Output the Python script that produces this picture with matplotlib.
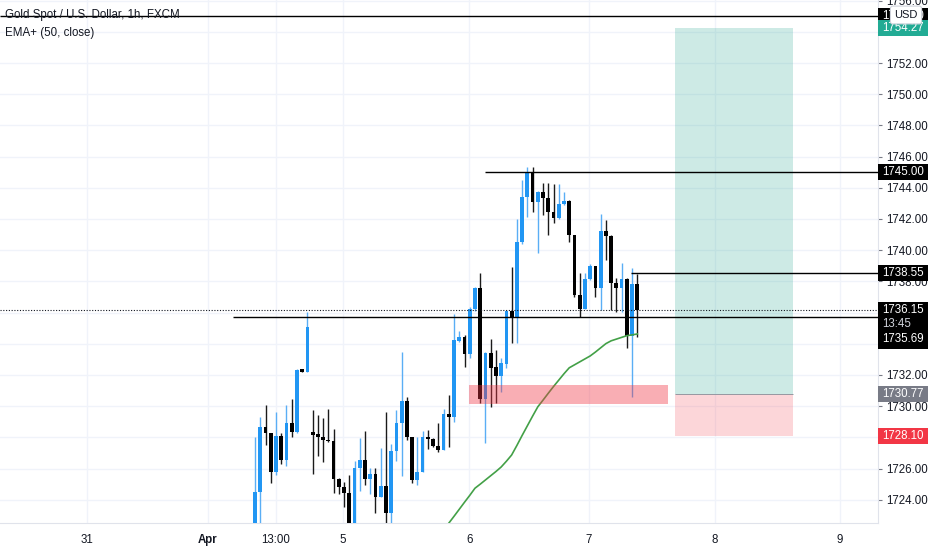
import numpy as np
import matplotlib
matplotlib.use('Agg')
import matplotlib.pyplot as plt
import matplotlib.transforms as mtransforms
from matplotlib.patches import Rectangle

plt.rcParams['font.family'] = ['Liberation Sans', 'DejaVu Sans']

#%% data (1h candles, first visible bar = index 0)
opens = [1722.30, 1724.50, 1728.69, 1728.26, 1725.80, 1728.09, 1726.55, 1728.94, 1728.37, 1732.36,
         1732.21, 1728.33, 1728.22, 1728.05, 1727.83, 1727.75, 1725.33, 1724.84, 1724.42, 1722.30,
         1726.02, 1726.55, 1725.33, 1725.63, 1724.20, 1724.88, 1723.13, 1727.13, 1728.90, 1730.35,
         1728.00, 1725.27, 1725.80, 1728.05, 1727.90, 1727.47, 1727.19, 1729.50, 1729.30, 1734.20,
         1734.42, 1733.33, 1736.23, 1737.56, 1730.44, 1733.43, 1732.49, 1731.94, 1732.71, 1736.10,
         1735.70, 1740.51, 1743.39, 1745.03, 1743.11, 1743.71, 1743.33, 1742.43, 1742.04, 1742.96,
         1743.15, 1740.97, 1737.13, 1736.21, 1738.13, 1738.99, 1737.60, 1741.23, 1740.91, 1737.88,
         1737.60, 1738.13, 1734.52, 1737.81]
highs = [1728.04, 1729.33, 1730.08, 1728.30, 1729.61, 1728.30, 1730.08, 1730.46, 1732.40, 1732.40,
         1736.02, 1729.76, 1729.44, 1729.22, 1729.82, 1728.52, 1725.40, 1725.16, 1725.59, 1726.49,
         1727.98, 1728.41, 1726.02, 1726.02, 1727.30, 1729.65, 1727.58, 1729.76, 1733.49, 1730.57,
         1728.05, 1728.00, 1728.41, 1728.47, 1727.95, 1728.90, 1729.80, 1730.72, 1735.89, 1734.84,
         1734.56, 1736.38, 1737.66, 1738.52, 1733.50, 1734.31, 1733.60, 1733.07, 1736.17, 1738.94,
         1741.98, 1744.50, 1745.35, 1745.35, 1743.80, 1744.29, 1744.29, 1744.24, 1744.24, 1743.75,
         1743.20, 1741.00, 1738.52, 1738.52, 1739.10, 1739.00, 1742.30, 1741.94, 1740.95, 1738.20,
         1739.16, 1738.20, 1738.84, 1738.46]
lows = [1722.00, 1722.30, 1727.51, 1725.10, 1725.59, 1726.28, 1726.19, 1728.00, 1728.30, 1732.20,
        1732.21, 1725.65, 1726.81, 1726.44, 1727.73, 1724.42, 1724.35, 1723.56, 1722.00, 1722.00,
        1724.58, 1724.95, 1724.37, 1723.17, 1724.20, 1722.00, 1722.00, 1726.49, 1725.54, 1727.83,
        1725.10, 1724.95, 1725.80, 1727.26, 1727.40, 1727.08, 1727.19, 1727.40, 1729.01, 1734.10,
        1732.53, 1733.07, 1736.10, 1730.19, 1727.66, 1729.97, 1730.22, 1730.93, 1732.43, 1734.03,
        1734.03, 1740.40, 1742.15, 1742.47, 1739.84, 1742.26, 1740.97, 1741.76, 1742.00, 1742.90,
        1740.54, 1736.98, 1735.74, 1736.20, 1738.10, 1737.02, 1736.17, 1739.37, 1736.17, 1736.06,
        1736.06, 1733.71, 1730.57, 1734.46]
closes = [1724.52, 1728.69, 1728.26, 1725.80, 1728.09, 1726.55, 1728.94, 1728.37, 1732.32, 1732.21,
          1735.10, 1728.17, 1728.00, 1727.83, 1727.75, 1725.33, 1724.84, 1724.42, 1722.30, 1726.06,
          1726.55, 1725.33, 1725.63, 1724.20, 1724.88, 1723.13, 1727.13, 1728.90, 1730.35, 1728.00,
          1725.27, 1725.80, 1728.05, 1727.90, 1727.45, 1727.19, 1729.50, 1729.30, 1734.24, 1734.42,
          1733.33, 1736.23, 1737.56, 1730.44, 1733.43, 1732.43, 1731.94, 1732.75, 1736.10, 1735.70,
          1740.55, 1743.39, 1745.03, 1743.11, 1743.71, 1743.33, 1742.43, 1742.04, 1742.96, 1743.15,
          1740.97, 1737.13, 1736.21, 1738.13, 1738.99, 1737.60, 1741.23, 1740.91, 1737.88, 1737.60,
          1738.13, 1734.52, 1737.81, 1736.15]

# EMA(50) values, starting at bar 36 (below that it is off the bottom of the chart)
ema_start = 36
ema_vals = [1722.00, 1722.50, 1722.94, 1723.39, 1723.84, 1724.28, 1724.74, 1725.00, 1725.27, 1725.54,
            1725.81, 1726.10, 1726.47, 1726.87, 1727.48, 1728.12, 1728.74, 1729.36, 1729.96, 1730.39,
            1730.83, 1731.26, 1731.67, 1732.08, 1732.46, 1732.65, 1732.84, 1733.03, 1733.22, 1733.47,
            1733.74, 1734.01, 1734.19, 1734.30, 1734.41, 1734.52, 1734.57, 1734.63]

# time axis labels (bar positions)
time_ticks = [-32.1, -9.0, 4.0, 16.8, 40.9, 63.8, 87.8, 111.7]
time_labels = ['31', 'Apr', '13:00', '5', '6', '7', '8', '9']

price_ticks = np.arange(1724, 1757, 2)

# drawings
hlines = [(1755.00, -48.7), (1745.00, 43.9), (1738.55, 71.8), (1735.69, -4.2)]
last_price = 1736.15
zone_x = (40.9, 78.9)
zone_y = (1730.14, 1731.36)
pos_x = (80.2, 102.7)
pos_entry, pos_target, pos_stop = 1730.77, 1754.27, 1728.10

#%% figure
fig = plt.figure(figsize=(9.32, 5.5), dpi=100)
ax = fig.add_axes([0, 27/550, 878/932, 523/550])
ax.set_xlim(-48.7, 118.96)
ax.set_ylim(1722.51, 1756.04)

ax.grid(True, color='#f0f3fa', lw=1)
ax.set_axisbelow(True)
for s in ['left', 'top']:
    ax.spines[s].set_visible(False)
for s in ['right', 'bottom']:
    ax.spines[s].set_color('#e0e3eb')

ax.yaxis.tick_right()
ax.set_yticks(price_ticks)
ax.set_yticklabels(['%.2f' % p for p in price_ticks])
ax.tick_params(axis='y', length=3, width=0.8, color='#787b86', pad=3,
               labelsize=8.3, labelcolor='#131722')
ax.set_xticks(time_ticks)
ax.set_xticklabels(time_labels)
ax.tick_params(axis='x', length=0, pad=8, labelsize=8.3, labelcolor='#131722')
ax.get_xticklabels()[1].set_fontweight('bold')

#%% candles
o = np.array(opens); h = np.array(highs); l = np.array(lows); c = np.array(closes)
idx = np.arange(len(o))
up = c >= o
ax.vlines(idx[up], l[up], h[up], color='#5aaef5', lw=1, zorder=3)
ax.vlines(idx[~up], l[~up], h[~up], color='#1a1a1a', lw=1, zorder=3)
body = np.maximum(np.abs(c - o), 0.08)
ax.bar(idx[up], body[up], bottom=np.minimum(o, c)[up], width=0.72, color='#2196f3', zorder=4)
ax.bar(idx[~up], body[~up], bottom=np.minimum(o, c)[~up], width=0.72, color='#000000', zorder=4)

# EMA
ax.plot(np.arange(ema_start, ema_start + len(ema_vals)), ema_vals, color='#43a047', lw=1.2, zorder=5)

# demand zone
ax.add_patch(Rectangle((zone_x[0], zone_y[0]), zone_x[1] - zone_x[0], zone_y[1] - zone_y[0],
                       fc=(242/255, 54/255, 69/255, 0.4), ec='none', zorder=6))

# long position tool
ax.add_patch(Rectangle((pos_x[0], pos_entry), pos_x[1] - pos_x[0], pos_target - pos_entry,
                       fc=(8/255, 153/255, 129/255, 0.2), ec='none', zorder=2))
ax.add_patch(Rectangle((pos_x[0], pos_stop), pos_x[1] - pos_x[0], pos_entry - pos_stop,
                       fc=(242/255, 54/255, 69/255, 0.2), ec='none', zorder=2))
ax.hlines(pos_entry, pos_x[0], pos_x[1], color='#9598a1', lw=0.7, zorder=2)

# horizontal lines
x_right = ax.get_xlim()[1]
for price, x0 in hlines:
    ax.hlines(price, x0, x_right, color='#000000', lw=1, zorder=7)
ax.hlines(last_price, ax.get_xlim()[0], x_right, color='#131722', lw=0.8,
          linestyles=(0, (1, 1.5)), zorder=7)

#%% price scale labels
trans = mtransforms.blended_transform_factory(ax.transAxes, ax.transData)
box_w = 50 / 878
box_h = 1.02
tx = 1.0 + 4 / 878

def price_label(price, text, color):
    ax.add_patch(Rectangle((1.0, price - box_h/2), box_w, box_h, transform=trans,
                           fc=color, ec='none', clip_on=False, zorder=10))
    ax.text(tx, price, text, transform=trans, ha='left', va='center',
            color='white', fontsize=8.3, clip_on=False, zorder=11)

price_label(1755.00, '1755.00', '#000000')
price_label(pos_target, '%.2f' % pos_target, '#22ab94')
price_label(1745.00, '1745.00', '#000000')
price_label(1738.55, '1738.55', '#000000')
price_label(pos_entry, '%.2f' % pos_entry, '#787b86')
price_label(pos_stop, '%.2f' % pos_stop, '#f23645')

# last price + countdown + line label stacked in one box
ax.add_patch(Rectangle((1.0, last_price - 2.5), box_w, 3.03, transform=trans,
                       fc='#000000', ec='none', clip_on=False, zorder=10))
ax.text(tx, last_price, '%.2f' % last_price, transform=trans,
        ha='left', va='center', color='white', fontsize=8.3, clip_on=False, zorder=11)
ax.text(tx, last_price - 0.9, '13:45', transform=trans,
        ha='left', va='center', color='#d1d4dc', fontsize=8.3, clip_on=False, zorder=11)
ax.text(tx, last_price - 1.87, '1735.69', transform=trans,
        ha='left', va='center', color='white', fontsize=8.3, clip_on=False, zorder=11)

# currency badge
fig.text(906/932, 1 - 15/550, 'USD', ha='center', va='center', fontsize=8, color='#131722',
         bbox=dict(boxstyle='round,pad=0.35,rounding_size=0.2', fc='white', ec='#d1d4dc', lw=0.8),
         zorder=20)

# legend texts
fig.text(5/932, 1 - 15/550, 'Gold Spot / U.S. Dollar, 1h, FXCM', ha='left', va='center',
         fontsize=8.3, color='#131722')
fig.text(5/932, 1 - 33/550, 'EMA+ (50, close)', ha='left', va='center',
         fontsize=8.3, color='#131722')

fig.savefig('out.png', dpi=100)
